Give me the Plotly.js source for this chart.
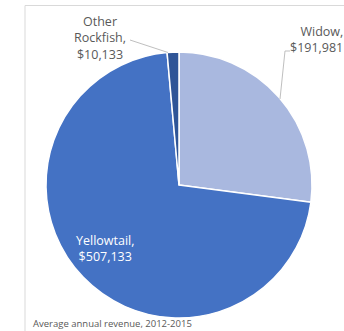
<!DOCTYPE html>
<html>
<head>
<meta charset="utf-8">
<script src="https://cdn.plot.ly/plotly-3.0.1.min.js"></script>
<style>html,body{margin:0;padding:0;background:#fff;}#chart{width:344px;height:331px;}</style>
</head>
<body>
<div id="chart"></div>
<script>
// Data
const categories = ['Widow', 'Yellowtail', 'Other Rockfish'];
const revenue = [191981, 507133, 10133];
const sliceColors = ['#A9B8DF', '#4472C4', '#2F5597'];
const caption = 'Average annual revenue, 2012-2015';

const W = 344, H = 331;
const X = p => p / W;
const Y = p => 1 - p / H;
const fmt = v => '$' + v.toLocaleString('en-US');
const labelText = (c, v) => c.replace(' ', '<br>') + ',<br>' + fmt(v);

const font = 'Open Sans, Noto Sans, sans-serif';

const trace = {
  type: 'pie',
  labels: categories,
  values: revenue,
  sort: false,
  direction: 'clockwise',
  rotation: 0,
  textinfo: 'none',
  hoverinfo: 'none',
  marker: { colors: sliceColors, line: { color: '#ffffff', width: 1.5 } },
  domain: { x: [X(46), X(312)], y: [Y(318), Y(52)] },
  showlegend: false
};

const layout = {
  width: W, height: H,
  margin: { l: 0, r: 0, t: 0, b: 0 },
  paper_bgcolor: '#ffffff',
  showlegend: false,
  shapes: [
    { type: 'rect', xref: 'paper', yref: 'paper', x0: X(25), x1: X(360), y0: Y(345), y1: Y(5.5),
      line: { color: '#d9d9d9', width: 1 }, fillcolor: 'rgba(0,0,0,0)', layer: 'below' },
    // leader lines
    { type: 'line', xref: 'paper', yref: 'paper', x0: X(130), y0: Y(40), x1: X(168), y1: Y(52.5),
      line: { color: '#bfbfbf', width: 1 } },
    { type: 'line', xref: 'paper', yref: 'paper', x0: X(290), y0: Y(51), x1: X(285), y1: Y(51),
      line: { color: '#bfbfbf', width: 1 } },
    { type: 'line', xref: 'paper', yref: 'paper', x0: X(285), y0: Y(51), x1: X(280), y1: Y(99),
      line: { color: '#bfbfbf', width: 1 } }
  ],
  annotations: [
    { xref: 'paper', yref: 'paper', x: X(345), y: Y(39), xanchor: 'right', yanchor: 'middle', align: 'right',
      text: labelText(categories[0], revenue[0]), showarrow: false, font: { family: font, size: 12.5, color: '#595959' } },
    { xref: 'paper', yref: 'paper', x: X(105), y: Y(248), xanchor: 'center', yanchor: 'middle', align: 'center',
      text: labelText(categories[1], revenue[1]), showarrow: false, font: { family: font, size: 12.5, color: '#ffffff' } },
    { xref: 'paper', yref: 'paper', x: X(100), y: Y(37.5), xanchor: 'center', yanchor: 'middle', align: 'center',
      text: labelText(categories[2], revenue[2]), showarrow: false, font: { family: font, size: 12.5, color: '#595959' } },
    { xref: 'paper', yref: 'paper', x: X(31), y: Y(323), xanchor: 'left', yanchor: 'middle', align: 'left',
      text: caption, showarrow: false, font: { family: font, size: 9.5, color: '#595959' } }
  ]
};

Plotly.newPlot('chart', [trace], layout, { displayModeBar: false, staticPlot: true });
</script>
</body>
</html>
